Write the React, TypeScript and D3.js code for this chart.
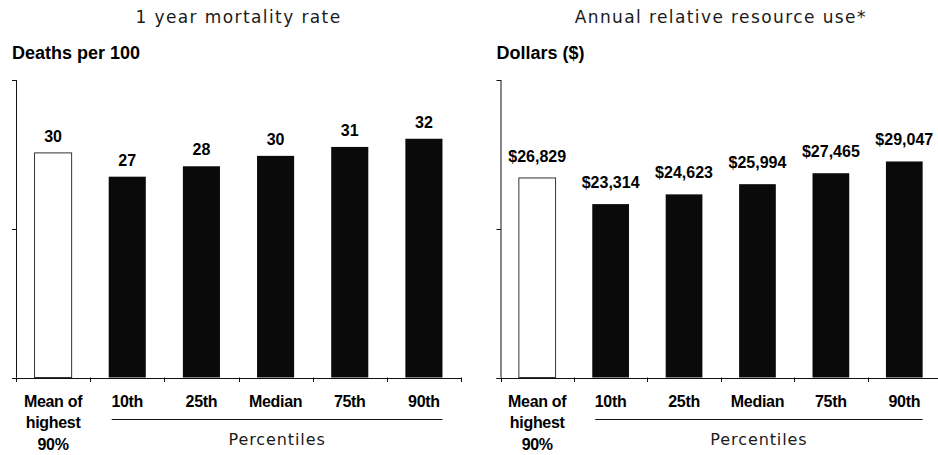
import React from "react";
import * as d3 from "d3";

const categories = ["Mean of highest 90%", "10th", "25th", "Median", "75th", "90th"];
const categoryLines = [["Mean of", "highest", "90%"], ["10th"], ["25th"], ["Median"], ["75th"], ["90th"]];
const mortalityValues = [30.2, 27.0, 28.4, 29.8, 31.0, 32.1];
const mortalityLabels = ["30", "27", "28", "30", "31", "32"];
const resourceValues = [26829, 23314, 24623, 25994, 27465, 29047];
const resourceLabels = ["$26,829", "$23,314", "$24,623", "$25,994", "$27,465", "$29,047"];
const mortalityDomain = [0, 40];
const resourceDomain = [0, 40000];

const W = 938;
const H = 455;
const Y0 = 377.5;
const YTOP = 80;
const BOLD = "'Liberation Sans', Arial, sans-serif";
const LIGHT = "'DejaVu Sans', Verdana, sans-serif";

type PanelProps = {
  x0: number;
  x1: number;
  title: string;
  yTitle: string;
  values: number[];
  labels: string[];
  domain: number[];
  labelGap: number;
};

function Panel({ x0, x1, title, yTitle, values, labels, domain, labelGap }: PanelProps) {
  const x = d3.scaleBand<string>().domain(categories).range([x0, x1]).paddingInner(0.5).paddingOuter(0.25);
  const y = d3.scaleLinear().domain(domain).range([Y0, YTOP]);
  const yTicks = [domain[0], (domain[0] + domain[1]) / 2, domain[1]];
  const step = x.step();
  const bw = x.bandwidth();
  const boundaries = d3.range(categories.length + 1).map((i) => x0 + i * step);
  const lineStart = (x(categories[1]) as number) + 3;
  const lineEnd = (x(categories[categories.length - 1]) as number) + bw;
  const center = (x0 + x1) / 2;
  return (
    <g>
      <text x={center} y={22.5} textAnchor="middle" fontFamily={LIGHT} fontSize={17} letterSpacing={1.4} fill="#1a1a1a">
        {title}
      </text>
      <text x={x0 - 4} y={59} fontFamily={BOLD} fontWeight="bold" fontSize={18} fill="#000">
        {yTitle}
      </text>
      <line x1={x0 + 0.5} x2={x0 + 0.5} y1={YTOP} y2={Y0} stroke="#111" strokeWidth={1} />
      {yTicks.map((t, i) => (
        <line key={i} x1={x0 - 4} x2={x0 + 0.5} y1={Math.round(y(t)) + 0.5} y2={Math.round(y(t)) + 0.5} stroke="#111" />
      ))}
      {values.map((v, i) => (
        <rect
          key={i}
          x={x(categories[i])}
          y={y(v)}
          width={bw}
          height={Y0 - y(v)}
          fill={i === 0 ? "#fff" : "#0a0a0a"}
          stroke={i === 0 ? "#333" : "none"}
          strokeWidth={1}
        />
      ))}
      <line x1={x0 - 4} x2={x1} y1={Math.round(Y0) + 0.5} y2={Math.round(Y0) + 0.5} stroke="#111" />
      {boundaries.map((b, i) => (
        <line key={i} x1={Math.round(b) + 0.5} x2={Math.round(b) + 0.5} y1={Y0} y2={Y0 + 4.5} stroke="#111" />
      ))}
      {values.map((v, i) => (
        <text
          key={i}
          x={(x(categories[i]) as number) + bw / 2}
          y={y(v) - labelGap}
          textAnchor="middle"
          fontFamily={BOLD}
          fontWeight="bold"
          fontSize={16}
          fill="#000"
        >
          {labels[i]}
        </text>
      ))}
      {categoryLines.map((lines, i) => (
        <text
          key={i}
          x={(x(categories[i]) as number) + bw / 2}
          y={406.5}
          textAnchor="middle"
          fontFamily={BOLD}
          fontWeight="bold"
          fontSize={16}
          letterSpacing={-0.3}
          fill="#000"
        >
          {lines.map((l, j) => (
            <tspan key={j} x={(x(categories[i]) as number) + bw / 2} dy={j === 0 ? 0 : 21.8}>
              {l}
            </tspan>
          ))}
        </text>
      ))}
      <line x1={lineStart} x2={lineEnd} y1={419.5} y2={419.5} stroke="#111" strokeWidth={1} />
      <text
        x={(lineStart + lineEnd) / 2}
        y={445}
        textAnchor="middle"
        fontFamily={LIGHT}
        fontSize={16}
        letterSpacing={0.9}
        fill="#1a1a1a"
      >
        Percentiles
      </text>
    </g>
  );
}

export default function App() {
  return (
    <svg width={W} height={H} style={{ position: "absolute", left: 0, top: 0, background: "#fff" }}>
      <rect x={0} y={0} width={W} height={H} fill="#fff" />
      <Panel
        x0={16}
        x1={461}
        title="1 year mortality rate"
        yTitle="Deaths per 100"
        values={mortalityValues}
        labels={mortalityLabels}
        domain={mortalityDomain}
        labelGap={11}
      />
      <Panel
        x0={500.5}
        x1={941}
        title="Annual relative resource use*"
        yTitle="Dollars ($)"
        values={resourceValues}
        labels={resourceLabels}
        domain={resourceDomain}
        labelGap={16}
      />
    </svg>
  );
}
